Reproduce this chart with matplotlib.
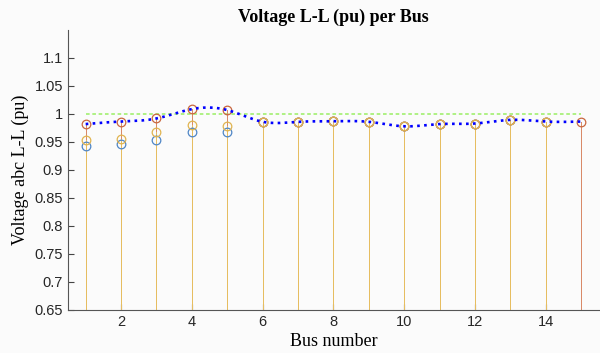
import numpy as np
import matplotlib
matplotlib.use('Agg')
import matplotlib.pyplot as plt

# bus numbers and per-phase L-L voltages (pu)
bus = np.arange(1, 16)
v_ab = [0.942, 0.946, 0.954, 0.9685, 0.968, 0.986, 0.986, 0.987, 0.986, 0.978, 0.982, 0.983, 0.9895, 0.9865, np.nan]
v_bc = [0.954, 0.956, 0.967, 0.9805, 0.979, 0.986, 0.986, 0.987, 0.986, 0.978, 0.982, 0.983, 0.9895, 0.9865, np.nan]
v_ca = [0.982, 0.9865, 0.992, 1.0087, 1.007, 0.986, 0.986, 0.987, 0.986, 0.978, 0.982, 0.983, 0.9895, 0.9865, 0.9865]
v_ref = 1.0

# (stem colour, marker colour) per phase - muted MATLAB defaults
C_BLUE = ('#6f9bd3', '#4f86c6')
C_RED = ('#d98a68', '#c9673f')
C_YEL = ('#e6bd60', '#e0b450')
BG = '#fbfbfb'


def natural_spline(x, y, n=300):
    # plain natural cubic spline, like MATLAB's smooth line through the max values
    x = np.asarray(x, float); y = np.asarray(y, float)
    h = np.diff(x)
    k = len(x)
    A = np.zeros((k, k)); r = np.zeros(k)
    A[0, 0] = A[-1, -1] = 1
    for i in range(1, k - 1):
        A[i, i - 1] = h[i - 1]; A[i, i] = 2 * (h[i - 1] + h[i]); A[i, i + 1] = h[i]
        r[i] = 3 * ((y[i + 1] - y[i]) / h[i] - (y[i] - y[i - 1]) / h[i - 1])
    c = np.linalg.solve(A, r)
    b = (np.diff(y) / h) - h * (2 * c[:-1] + c[1:]) / 3
    d = np.diff(c) / (3 * h)
    xs = np.linspace(x[0], x[-1], n)
    idx = np.clip(np.searchsorted(x, xs) - 1, 0, k - 2)
    t = xs - x[idx]
    return xs, y[idx] + b[idx] * t + c[idx] * t**2 + d[idx] * t**3


fig = plt.figure(figsize=(6, 3.53), dpi=100, facecolor=BG)
ax = fig.add_axes([0.1133, 0.122, 0.885, 0.793], facecolor=BG)
ymin = 0.65

for vals, (cs, cm) in [(v_ab, C_BLUE), (v_ca, C_RED), (v_bc, C_YEL)]:
    vals = np.array(vals)
    ok = ~np.isnan(vals)
    ax.vlines(bus[ok], ymin, vals[ok], color=cs, lw=0.72, antialiased=False, zorder=2)
    ax.plot(bus[ok], vals[ok], 'o', ms=6.2, mfc='none', mec=cm, mew=0.9, zorder=3)

xs, ys = natural_spline(bus, v_ca)
ax.plot(xs, ys, color='#0000ff', ls=':', lw=1.9, zorder=4)
ax.plot([bus[0], bus[-1]], [v_ref, v_ref], color='#a8f07a', ls=(0, (2, 1.5)), lw=1.3, zorder=1)

ax.set_xlim(0.5, 15.5)
ax.set_ylim(0.65, 1.15)
ax.set_xticks(np.arange(2, 15, 2))
yt = np.arange(0.65, 1.101, 0.05)
ax.set_yticks(yt)
ax.set_yticklabels([f'{v:g}' for v in np.round(yt, 2)])
ax.tick_params(direction='in', length=4, width=0.8, colors='#444444', labelcolor='#262626',
               labelsize=10.5)
for lab in ax.get_xticklabels() + ax.get_yticklabels():
    lab.set_family('Liberation Sans')
for s in ['top', 'right']:
    ax.spines[s].set_visible(False)
for s in ['left', 'bottom']:
    ax.spines[s].set_color('#555555')
    ax.spines[s].set_linewidth(0.8)

ax.set_title('Voltage L-L (pu) per Bus', family='Liberation Serif', fontweight='bold',
             fontsize=13, pad=6)
ax.set_xlabel('Bus number', family='Liberation Serif', fontsize=13, labelpad=3)
ax.set_ylabel('Voltage abc L-L (pu)', family='Liberation Serif', fontsize=13, labelpad=4)

fig.savefig('out.png', dpi=100, facecolor=BG)
